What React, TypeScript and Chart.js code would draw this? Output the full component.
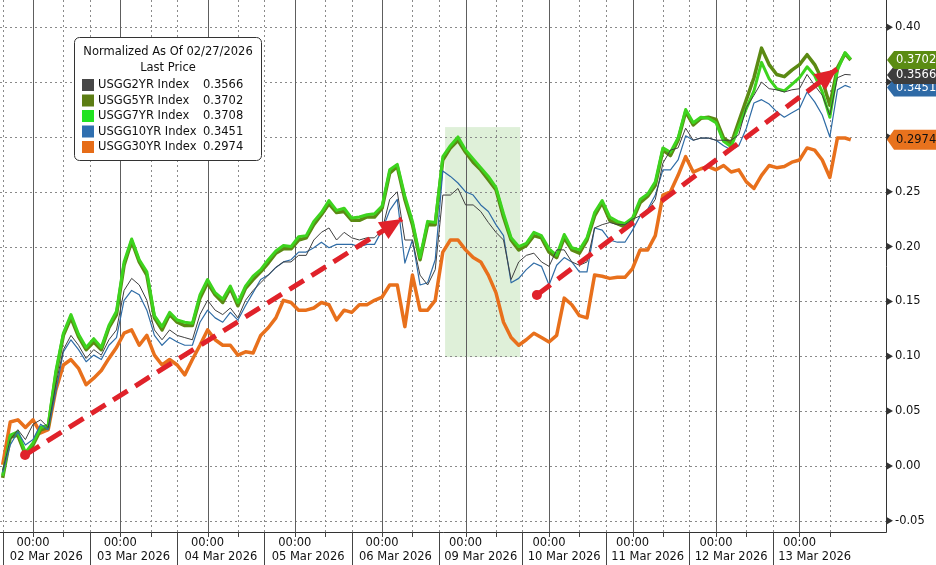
import { useEffect, useRef } from "react";
import { Chart, registerables } from "chart.js";

Chart.register(...registerables);

const FONT = "'DejaVu Sans', Verdana, sans-serif";

// trading sessions in hours since 02 Mar open (sessions shorten by 1h after DST)
const dayLabels = [
  "02 Mar 2026", "03 Mar 2026", "04 Mar 2026", "05 Mar 2026", "06 Mar 2026",
  "09 Mar 2026", "10 Mar 2026", "11 Mar 2026", "12 Mar 2026", "13 Mar 2026",
];
const dayStarts = [0, 23, 46, 69, 92, 115, 137, 159, 181, 203];
const sessionEnd = 225;
const midnights = [8, 31, 54, 77, 100, 122, 144, 166, 188, 210];
const mornings = [16, 39, 62, 85, 108, 130, 152, 174, 196, 218];
const yTicks = [0.4, 0.35, 0.3, 0.25, 0.2, 0.15, 0.1, 0.05, 0, -0.05];

const hours = [
  0, 2, 4, 6, 8, 10, 12, 14, 16, 18,
  20, 22, 24, 26, 28, 30, 32, 34, 36, 38,
  40, 42, 44, 46, 48, 50, 52, 54, 56, 58,
  60, 62, 64, 66, 68, 70, 72, 74, 76, 78,
  80, 82, 84, 86, 88, 90, 92, 94, 96, 98,
  100, 102, 104, 106, 108, 110, 112, 114, 116, 118,
  120, 122, 124, 126, 128, 130, 132, 134, 136, 138,
  140, 142, 144, 146, 148, 150, 152, 154, 156, 158,
  160, 162, 164, 166, 168, 170, 172, 174, 176, 178,
  180, 182, 184, 186, 188, 190, 192, 194, 196, 198,
  200, 202, 204, 206, 208, 210, 212, 214, 216, 218,
  220, 222, 223.5,
];

const usgg2 = [
  -0.004, 0.024, 0.033, 0.024, 0.038, 0.042, 0.035, 0.074, 0.106, 0.119,
  0.110, 0.098, 0.106, 0.101, 0.115, 0.124, 0.160, 0.171, 0.165, 0.151,
  0.124, 0.115, 0.124, 0.119, 0.117, 0.115, 0.138, 0.151, 0.142, 0.138,
  0.144, 0.135, 0.151, 0.160, 0.167, 0.174, 0.181, 0.186, 0.186, 0.192,
  0.192, 0.206, 0.213, 0.217, 0.206, 0.213, 0.208, 0.206, 0.208, 0.208,
  0.215, 0.243, 0.250, 0.206, 0.206, 0.174, 0.165, 0.179, 0.247, 0.247,
  0.253, 0.238, 0.238, 0.232, 0.222, 0.213, 0.206, 0.170, 0.186, 0.192,
  0.194, 0.186, 0.182, 0.197, 0.197, 0.186, 0.183, 0.186, 0.217, 0.220,
  0.222, 0.220, 0.220, 0.225, 0.228, 0.233, 0.243, 0.276, 0.288, 0.290,
  0.308, 0.297, 0.299, 0.299, 0.297, 0.297, 0.297, 0.302, 0.327, 0.338,
  0.350, 0.344, 0.343, 0.341, 0.343, 0.344, 0.357, 0.347, 0.338, 0.320,
  0.354, 0.357, 0.3566,
];

const usgg5 = [
  -0.011, 0.026, 0.028, 0.010, 0.019, 0.033, 0.035, 0.083, 0.119, 0.135,
  0.118, 0.106, 0.113, 0.106, 0.126, 0.138, 0.183, 0.205, 0.186, 0.174,
  0.135, 0.124, 0.138, 0.131, 0.128, 0.128, 0.153, 0.167, 0.156, 0.149,
  0.162, 0.146, 0.162, 0.170, 0.177, 0.185, 0.194, 0.198, 0.198, 0.206,
  0.208, 0.220, 0.229, 0.239, 0.231, 0.232, 0.224, 0.224, 0.227, 0.227,
  0.235, 0.267, 0.273, 0.243, 0.220, 0.188, 0.220, 0.220, 0.279, 0.290,
  0.297, 0.286, 0.277, 0.270, 0.261, 0.252, 0.227, 0.206, 0.197, 0.201,
  0.210, 0.208, 0.195, 0.190, 0.208, 0.197, 0.194, 0.206, 0.228, 0.240,
  0.224, 0.221, 0.218, 0.224, 0.240, 0.246, 0.256, 0.288, 0.283, 0.297,
  0.323, 0.311, 0.317, 0.318, 0.316, 0.299, 0.294, 0.314, 0.334, 0.354,
  0.381, 0.366, 0.357, 0.355, 0.361, 0.366, 0.375, 0.366, 0.352, 0.329,
  0.363, 0.376, 0.3702,
];

const usgg7 = [
  -0.009, 0.028, 0.031, 0.012, 0.021, 0.035, 0.037, 0.086, 0.121, 0.138,
  0.120, 0.108, 0.116, 0.108, 0.128, 0.141, 0.186, 0.207, 0.188, 0.177,
  0.137, 0.127, 0.140, 0.133, 0.131, 0.130, 0.156, 0.170, 0.158, 0.152,
  0.164, 0.149, 0.164, 0.173, 0.179, 0.188, 0.196, 0.201, 0.200, 0.209,
  0.210, 0.223, 0.231, 0.242, 0.233, 0.235, 0.226, 0.227, 0.229, 0.230,
  0.237, 0.270, 0.275, 0.246, 0.223, 0.190, 0.223, 0.222, 0.282, 0.292,
  0.300, 0.288, 0.280, 0.272, 0.264, 0.254, 0.230, 0.208, 0.200, 0.203,
  0.213, 0.210, 0.198, 0.192, 0.211, 0.199, 0.197, 0.208, 0.231, 0.242,
  0.227, 0.223, 0.221, 0.226, 0.243, 0.248, 0.259, 0.290, 0.286, 0.299,
  0.325, 0.313, 0.318, 0.317, 0.313, 0.296, 0.291, 0.309, 0.326, 0.342,
  0.368, 0.353, 0.344, 0.342, 0.348, 0.354, 0.364, 0.356, 0.341, 0.318,
  0.361, 0.377, 0.3708,
];

const usgg10 = [
  -0.006, 0.019, 0.031, 0.019, 0.024, 0.038, 0.033, 0.067, 0.104, 0.115,
  0.106, 0.095, 0.101, 0.097, 0.110, 0.117, 0.151, 0.160, 0.156, 0.142,
  0.119, 0.110, 0.117, 0.113, 0.110, 0.110, 0.131, 0.142, 0.135, 0.131,
  0.140, 0.133, 0.146, 0.158, 0.170, 0.174, 0.181, 0.186, 0.188, 0.195,
  0.195, 0.199, 0.204, 0.199, 0.202, 0.202, 0.202, 0.200, 0.202, 0.202,
  0.215, 0.233, 0.243, 0.185, 0.206, 0.165, 0.167, 0.188, 0.269, 0.264,
  0.258, 0.250, 0.247, 0.238, 0.232, 0.220, 0.210, 0.167, 0.171, 0.179,
  0.185, 0.182, 0.165, 0.183, 0.190, 0.186, 0.177, 0.177, 0.217, 0.215,
  0.206, 0.204, 0.204, 0.215, 0.228, 0.234, 0.247, 0.270, 0.270, 0.279,
  0.301, 0.297, 0.299, 0.299, 0.297, 0.292, 0.288, 0.292, 0.308, 0.331,
  0.334, 0.330, 0.323, 0.318, 0.322, 0.326, 0.341, 0.332, 0.320, 0.300,
  0.343, 0.347, 0.3451,
];

const usgg30 = [
  0.001, 0.040, 0.042, 0.035, 0.042, 0.030, 0.033, 0.069, 0.092, 0.097,
  0.089, 0.074, 0.080, 0.087, 0.098, 0.108, 0.121, 0.124, 0.110, 0.119,
  0.101, 0.092, 0.097, 0.092, 0.083, 0.097, 0.110, 0.124, 0.115, 0.110,
  0.110, 0.101, 0.104, 0.103, 0.119, 0.126, 0.135, 0.151, 0.149, 0.142,
  0.142, 0.144, 0.149, 0.147, 0.133, 0.142, 0.140, 0.147, 0.147, 0.151,
  0.154, 0.165, 0.165, 0.127, 0.174, 0.142, 0.142, 0.151, 0.195, 0.206,
  0.206, 0.197, 0.190, 0.186, 0.174, 0.158, 0.131, 0.117, 0.110, 0.115,
  0.121, 0.117, 0.113, 0.119, 0.153, 0.147, 0.137, 0.135, 0.174, 0.173,
  0.171, 0.172, 0.172, 0.180, 0.197, 0.197, 0.210, 0.247, 0.250, 0.265,
  0.282, 0.268, 0.271, 0.273, 0.270, 0.274, 0.268, 0.270, 0.259, 0.253,
  0.265, 0.274, 0.272, 0.273, 0.277, 0.279, 0.290, 0.288, 0.279, 0.263,
  0.299, 0.299, 0.2974,
];

const seriesNames = ["USGG2YR Index", "USGG5YR Index", "USGG7YR Index", "USGG10YR Index", "USGG30YR Index"];
const lastPrices = [0.3566, 0.3702, 0.3708, 0.3451, 0.2974];
const legendColors = ["#474747", "#5c7d14", "#22e322", "#2f6fb0", "#e66c17"];

// annotation: two trend arrows and the highlighted 09 Mar window
const arrowOneHours = [5.9, 105.2];
const arrowOneValues = [0.0099, 0.2252];
const arrowTwoHours = [140.8, 219.9];
const arrowTwoValues = [0.1559, 0.362];
const shadeHours = [116.6, 136.4];
const shadeValues = [0.0993, 0.309];

const pts = (xs: number[], ys: number[]) => xs.map((x, i) => ({ x, y: ys[i] }));

const overlay = {
  id: "overlay",
  beforeDatasetsDraw(chart: any) {
    const { ctx, chartArea: a, scales } = chart;
    const x = scales.x;
    const y = scales.y;
    ctx.save();
    const bx0 = x.getPixelForValue(shadeHours[0]);
    const bx1 = x.getPixelForValue(shadeHours[1]);
    const by0 = y.getPixelForValue(shadeValues[1]);
    const by1 = y.getPixelForValue(shadeValues[0]);
    ctx.fillStyle = "rgba(196, 228, 186, 0.55)";
    ctx.fillRect(bx0, by0, bx1 - bx0, by1 - by0);

    ctx.lineWidth = 1;
    ctx.strokeStyle = "#8a8a8a";
    ctx.setLineDash([2, 3]);
    for (const v of yTicks) {
      const py = Math.round(y.getPixelForValue(v)) + 0.5;
      ctx.beginPath();
      ctx.moveTo(a.left, py);
      ctx.lineTo(a.right, py);
      ctx.stroke();
    }
    for (const h of [...dayStarts, ...mornings]) {
      const px = Math.round(x.getPixelForValue(h)) + 0.5;
      ctx.beginPath();
      ctx.moveTo(px, a.top);
      ctx.lineTo(px, a.bottom);
      ctx.stroke();
    }
    ctx.setLineDash([]);
    ctx.strokeStyle = "#5e5e5e";
    for (const h of midnights) {
      const px = Math.round(x.getPixelForValue(h)) + 0.5;
      ctx.beginPath();
      ctx.moveTo(px, a.top);
      ctx.lineTo(px, a.bottom);
      ctx.stroke();
    }
    ctx.restore();
  },
  afterDatasetsDraw(chart: any) {
    const { ctx } = chart;
    ctx.save();
    ctx.fillStyle = "#e0222a";
    for (const idx of [0, 1]) {
      const el = chart.getDatasetMeta(idx).data;
      const p0 = el[0];
      const p1 = el[1];
      const dx = p1.x - p0.x;
      const dy = p1.y - p0.y;
      const len = Math.hypot(dx, dy);
      const ux = dx / len;
      const uy = dy / len;
      const bx = p1.x - ux * 22;
      const by = p1.y - uy * 22;
      ctx.beginPath();
      ctx.moveTo(p1.x, p1.y);
      ctx.lineTo(bx - uy * 10, by + ux * 10);
      ctx.lineTo(bx + uy * 10, by - ux * 10);
      ctx.closePath();
      ctx.fill();
    }
    ctx.restore();
  },
  afterDraw(chart: any) {
    const { ctx, chartArea: a, scales, width, height } = chart;
    const x = scales.x;
    const y = scales.y;
    ctx.save();

    // axis lines
    ctx.strokeStyle = "#333";
    ctx.lineWidth = 1;
    ctx.beginPath();
    ctx.moveTo(a.right + 0.5, a.top);
    ctx.lineTo(a.right + 0.5, a.bottom + 0.5);
    ctx.moveTo(a.left, a.bottom + 0.5);
    ctx.lineTo(a.right + 0.5, a.bottom + 0.5);
    ctx.stroke();

    // session separators and small ticks under the time axis
    ctx.strokeStyle = "#444";
    ctx.beginPath();
    for (const h of dayStarts) {
      const px = Math.round(x.getPixelForValue(h)) + 0.5;
      ctx.moveTo(px, a.bottom);
      ctx.lineTo(px, height);
    }
    for (const h of [...midnights, ...mornings]) {
      const px = Math.round(x.getPixelForValue(h)) + 0.5;
      ctx.moveTo(px, a.bottom);
      ctx.lineTo(px, a.bottom + 5);
    }
    ctx.stroke();

    // date labels centred in each session
    ctx.font = `11.5px ${FONT}`;
    ctx.fillStyle = "#111";
    ctx.textAlign = "center";
    ctx.textBaseline = "middle";
    dayLabels.forEach((label, i) => {
      const end = i + 1 < dayStarts.length ? dayStarts[i + 1] : sessionEnd;
      const cx = (x.getPixelForValue(dayStarts[i]) + x.getPixelForValue(end)) / 2;
      ctx.fillText(label, cx, a.bottom + 25);
    });

    // tick pointers on the value axis
    ctx.fillStyle = "#333";
    for (const v of yTicks) {
      const py = y.getPixelForValue(v);
      ctx.beginPath();
      ctx.moveTo(a.right + 1, py - 3.5);
      ctx.lineTo(a.right + 7, py);
      ctx.lineTo(a.right + 1, py + 3.5);
      ctx.closePath();
      ctx.fill();
    }

    // last value tags
    const tags = [
      { v: lastPrices[4], bg: "#e8721d", fg: "#111", h: 20 },
      { v: lastPrices[3], bg: "#2f6aa6", fg: "#fff", h: 18 },
      { v: lastPrices[0], bg: "#3d3d3d", fg: "#fff", h: 18 },
      { v: lastPrices[1], bg: "#5b8c13", fg: "#fff", h: 18 },
    ];
    ctx.textAlign = "left";
    for (const t of tags) {
      const cy = y.getPixelForValue(t.v);
      const x0 = a.right + 1;
      ctx.fillStyle = t.bg;
      ctx.beginPath();
      ctx.moveTo(x0, cy);
      ctx.lineTo(x0 + 7, cy - t.h / 2);
      ctx.lineTo(width, cy - t.h / 2);
      ctx.lineTo(width, cy + t.h / 2);
      ctx.lineTo(x0 + 7, cy + t.h / 2);
      ctx.closePath();
      ctx.fill();
      ctx.fillStyle = t.fg;
      ctx.fillText(t.v.toFixed(4), x0 + 9, cy + 0.5);
    }

    // legend box
    const lx = 74.5;
    const ly = 37.5;
    const lw = 187;
    const lh = 123;
    ctx.font = `11.5px ${FONT}`;
    ctx.fillStyle = "#fff";
    ctx.strokeStyle = "#333";
    ctx.beginPath();
    ctx.roundRect(lx, ly, lw, lh, 5);
    ctx.fill();
    ctx.stroke();
    ctx.fillStyle = "#111";
    ctx.textAlign = "center";
    ctx.fillText("Normalized As Of 02/27/2026", lx + lw / 2, 52.5);
    ctx.fillText("Last Price", lx + lw / 2, 68.5);
    ctx.textAlign = "left";
    seriesNames.forEach((name, i) => {
      const ry = 85 + i * 15.5;
      ctx.fillStyle = legendColors[i];
      ctx.fillRect(82, ry - 6, 12, 12);
      ctx.fillStyle = "#111";
      ctx.fillText(name, 98, ry + 0.5);
      ctx.fillText(lastPrices[i].toFixed(4), 203, ry + 0.5);
    });

    ctx.restore();
  },
};

export default function App() {
  const canvasRef = useRef<HTMLCanvasElement>(null);
  const chartRef = useRef<Chart | null>(null);

  useEffect(() => {
    document.body.style.margin = "0";
    const ctx = canvasRef.current?.getContext("2d");
    if (!ctx) return;
    if (chartRef.current) chartRef.current.destroy();

    const thick = { pointRadius: 0, tension: 0, borderJoinStyle: "round" as const };

    chartRef.current = new Chart(ctx, {
      type: "line",
      data: {
        datasets: [
          {
            data: pts(arrowOneHours, arrowOneValues),
            borderColor: "#e0222a",
            borderWidth: 5,
            borderDash: [17, 9],
            pointRadius: [5, 0],
            pointBackgroundColor: "#e0222a",
            pointBorderWidth: 0,
          },
          {
            data: pts(arrowTwoHours, arrowTwoValues),
            borderColor: "#e0222a",
            borderWidth: 5,
            borderDash: [17, 9],
            pointRadius: [5, 0],
            pointBackgroundColor: "#e0222a",
            pointBorderWidth: 0,
          },
          { label: seriesNames[0], data: pts(hours, usgg2), borderColor: "#3f3f3f", borderWidth: 1, ...thick },
          { label: seriesNames[3], data: pts(hours, usgg10), borderColor: "#2f6ca6", borderWidth: 1.2, ...thick },
          { label: seriesNames[2], data: pts(hours, usgg7), borderColor: "#3dd41e", borderWidth: 3, ...thick },
          { label: seriesNames[1], data: pts(hours, usgg5), borderColor: "#5b8a13", borderWidth: 3.5, ...thick },
          { label: seriesNames[4], data: pts(hours, usgg30), borderColor: "#e8701c", borderWidth: 3.5, ...thick },
        ],
      },
      options: {
        animation: false,
        responsive: true,
        maintainAspectRatio: false,
        layout: { padding: 0, autoPadding: false },
        plugins: { legend: { display: false }, tooltip: { enabled: false } },
        scales: {
          x: {
            type: "linear",
            min: -0.7,
            max: 232.8,
            grid: { display: false, drawTicks: false },
            border: { display: false },
            afterBuildTicks: (s: any) => {
              s.ticks = midnights.map((v) => ({ value: v }));
            },
            afterFit: (s: any) => {
              s.height = 33;
              s.paddingLeft = 0;
              s.paddingRight = 0;
            },
            ticks: {
              autoSkip: false,
              maxRotation: 0,
              padding: 4,
              color: "#111",
              font: { family: FONT, size: 11.5 },
              callback: () => "00:00",
            },
          },
          y: {
            position: "right",
            min: -0.0603,
            max: 0.4249,
            grid: { display: false, drawTicks: false },
            border: { display: false },
            afterBuildTicks: (s: any) => {
              s.ticks = yTicks.map((v) => ({ value: v }));
            },
            afterFit: (s: any) => {
              s.width = 50;
              s.paddingTop = 0;
              s.paddingBottom = 0;
            },
            ticks: {
              padding: 9,
              color: "#111",
              font: { family: FONT, size: 11.5 },
              callback: (v: any) => Number(v).toFixed(2),
            },
          },
        },
      },
      plugins: [overlay],
    });

    return () => {
      chartRef.current?.destroy();
      chartRef.current = null;
    };
  }, []);

  return (
    <div style={{ width: 936, height: 565, position: "relative", background: "#fff" }}>
      <canvas ref={canvasRef} />
    </div>
  );
}
